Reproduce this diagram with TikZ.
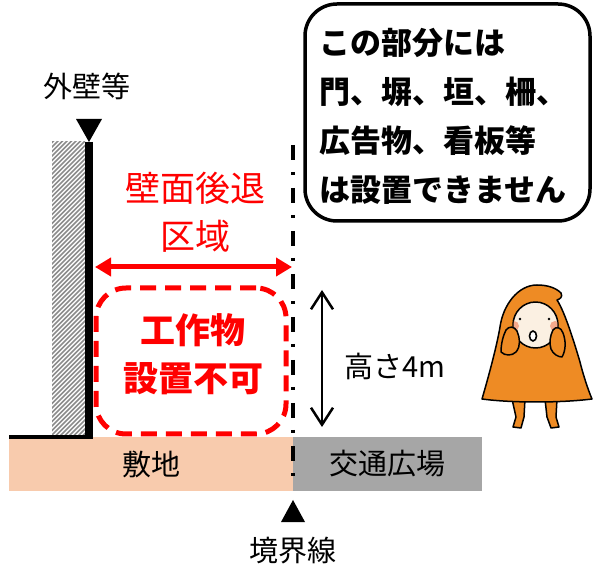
\documentclass[tikz,border=0pt]{standalone}
\usepackage{fontspec}
\newfontfamily\jp{Noto Sans CJK JP}
\usetikzlibrary{arrows.meta}
\definecolor{zonered}{HTML}{FF0000}
\definecolor{site}{HTML}{F8CBAD}
\definecolor{plaza}{HTML}{A6A6A6}
\definecolor{hatchgray}{HTML}{8C8C8C}
\definecolor{cloak}{HTML}{EE8B24}
\definecolor{skin}{HTML}{FBF0E2}
\definecolor{blush}{HTML}{F4A98C}
\begin{document}
\begin{tikzpicture}[x=1pt,y=-1pt,
  lbl/.style={font=\jp\fontsize{29}{34}\selectfont, inner sep=0pt},
  redlbl/.style={font=\jp\fontsize{35}{48}\selectfont, text=zonered, align=center, inner sep=0pt},
  noticetext/.style={font=\jp\bfseries\fontsize{31}{49}\selectfont, align=left, inner sep=0pt},
  marker/.style={fill=black},
  boundary/.style={line width=3.4pt, dash pattern=on 15pt off 12pt on 3pt off 13pt},
  zonebox/.style={draw=zonered, line width=5pt, dash pattern=on 16pt off 9pt, rounded corners=30pt, minimum width=190pt, minimum height=146pt, inner sep=0pt},
  redarrow/.style={draw=zonered, line width=5pt, {Triangle[length=16pt,width=18pt]}-{Triangle[length=16pt,width=18pt]}},
  heightarrow/.style={draw=black, line width=2.5pt, {Straight Barb[length=17pt,width=22pt]}-{Straight Barb[length=17pt,width=22pt]}},
  hatch/.style={draw=hatchgray, line width=1.6pt},
  outline/.style={draw=black, line width=1.5pt, line join=round}]
\path[use as bounding box] (0,0) rectangle (595,569);

% ground: site and plaza strips
\fill[site] (9,437) rectangle (293,491);
\fill[plaza] (293,437) rectangle (482,491);
\node[lbl] (site-label) at (151,464) {敷地};
\node[lbl] (plaza-label) at (387,464) {交通広場};

% outer wall with hatching
\begin{scope}
  \clip (52,142) rectangle (85,437);
  \foreach \i in {0,4.5,...,340} \draw[hatch] (48,142+\i) -- ++(44,-44);
\end{scope}
\draw[line width=8pt] (89,142) -- (89,439);
\draw[line width=4pt] (9,437) -- (93,437);
\fill[marker] (76,119) -- (102,119) -- (89,142) -- cycle;
\node[lbl] (wall-label) at (87,86) {外壁等};

% boundary line
\coordinate (bnd-top) at (293,145);
\coordinate (bnd-bot) at (293,488);
\draw[boundary] (bnd-top) -- (bnd-bot);
\fill[marker] (281,522) -- (305,522) -- (293,500) -- cycle;
\node[lbl] (boundary-label) at (293,551) {境界線};

% setback zone
\coordinate (wall-face) at (95,267);
\coordinate (bnd-face) at (292,267);
\draw[redarrow] (wall-face) -- (bnd-face);
\node[redlbl] (setback-label) at (195,212) {壁面後退\\区域};
\node[zonebox] (zone) at (191,361) {};
\node[redlbl, font=\jp\bfseries\fontsize{35}{48}\selectfont] (ban-label) at (193,354) {工作物\\設置不可};

% height
\coordinate (h-top) at (322,290);
\coordinate (h-bot) at (322,427);
\draw[heightarrow] (h-top) -- (h-bot);
\node[lbl, anchor=west] (height-label) at (344,366) {高さ4m};

% notice box
\node[draw, line width=3.5pt, rounded corners=32pt, minimum width=285pt, minimum height=217pt, inner sep=0pt] (notice) at (447.5,112.5) {};
\node[noticetext, anchor=west] (notice-text) at (319,116) {この部分には\\門、塀、垣、柵、\\広告物、看板等\\は設置できません};

% hooded figure
\path[outline, fill=cloak] (512,399) -- (525,399) -- (524,417) -- (521,428) -- (513,427) -- (516,417) -- cycle;
\path[outline, fill=cloak] (545,399) -- (557,399) -- (556,417) -- (559,427) -- (551,428) -- (547,417) -- cycle;
\path[outline, fill=cloak] (482,399) .. controls (489,375) and (497,345) .. (500,327)
  .. controls (503,305) and (518,285) .. (537,285)
  .. controls (548,285) and (556,288) .. (561,293)
  .. controls (563,297) and (560,299) .. (557,300)
  .. controls (565,312) and (575,345) .. (580,362)
  .. controls (584,378) and (589,392) .. (592,399)
  .. controls (560,403) and (512,403) .. (482,399) -- cycle;
\path[outline, fill=skin] (535.5,325) ellipse [x radius=22.5, y radius=23];
\begin{scope}
  \clip (535.5,325) ellipse [x radius=22, y radius=22.5];
  \fill[blush] (514,326) circle (5);
  \fill[blush] (555,326) circle (5);
\end{scope}
\fill (520,319) circle (1.4);
\fill (549,319) circle (1.4);
\path[draw=black, line width=1.6pt, fill=white] (533,336) ellipse [x radius=3.5, y radius=5];
\path[outline, fill=cloak] (506,330) .. controls (509,326) and (514,326) .. (517,331)
  .. controls (520,338) and (521,346) .. (516,352)
  .. controls (512,356) and (505,356) .. (501,352)
  .. controls (501,344) and (503,336) .. (506,330) -- cycle;
\path[outline, fill=cloak] (553,330) .. controls (556,326) and (561,327) .. (563,333)
  .. controls (566,341) and (566,350) .. (562,357)
  .. controls (558,357) and (553,354) .. (551,349)
  .. controls (549,343) and (550,336) .. (553,330) -- cycle;
\end{tikzpicture}
\end{document}
